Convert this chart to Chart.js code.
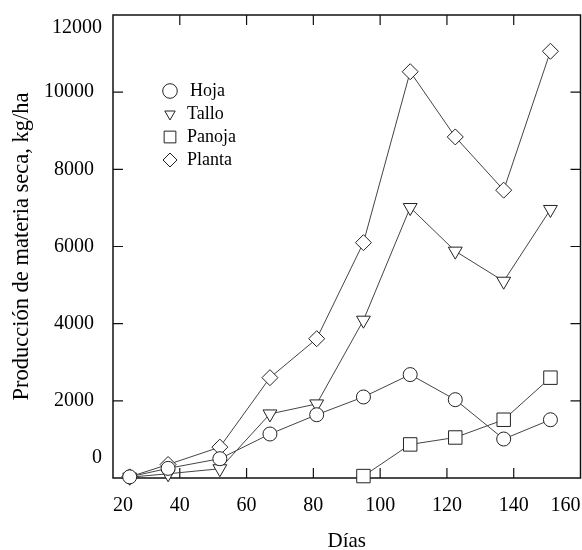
<!DOCTYPE html>
<html>
<head>
<meta charset="utf-8">
<script src="https://cdn.jsdelivr.net/npm/chart.js@4.4.1/dist/chart.umd.min.js"></script>
<style>
    html, body { margin: 0; padding: 0; background: #fff; overflow: hidden; }
    #wrap { width: 582px; height: 550px; position: relative; }
</style>
</head>
<body>
<div id="wrap"><canvas id="chart"></canvas></div>
<script>
// values
const days = [25, 36.5, 52, 67, 81, 95, 109, 122.5, 137, 151];
const hoja = [30, 250, 500, 1140, 1640, 2100, 2680, 2030, 1010, 1510];
const tallo = [20, 110, 240, 1660, 1920, 4090, 7010, 5880, 5100, 6960];
const panoja = [null, null, null, null, null, 50, 870, 1050, 1510, 2600];
const planta = [30, 350, 800, 2600, 3610, 6100, 10530, 8840, 7460, 11060];

const seriesNames = ['Hoja', 'Tallo', 'Panoja', 'Planta'];
const xRange = [20, 160];
const yRange = [0, 12000];

const FONT = "'Liberation Serif', 'Times New Roman', serif";
Chart.defaults.font.family = FONT;
Chart.defaults.color = '#000';

const toPoints = (vals) => days.map((d, i) => ({ x: d, y: vals[i] }));

const makeSet = (label, vals, style, radius, rotation) => ({
    label: label,
    data: toPoints(vals),
    borderColor: '#444',
    borderWidth: 1,
    pointStyle: style,
    pointRadius: radius,
    pointHoverRadius: radius,
    pointRotation: rotation || 0,
    pointBackgroundColor: '#fff',
    pointBorderColor: '#222',
    pointBorderWidth: 1,
    spanGaps: false,
    tension: 0,
    clip: false
});

// box round the plot and ticks pointing inwards
const framePlugin = {
    id: 'frame',
    beforeDatasetsDraw(chart) {
        const { ctx, chartArea: a, scales: { x, y } } = chart;
        ctx.save();
        ctx.strokeStyle = '#111';
        ctx.lineWidth = 1.5;
        ctx.strokeRect(a.left, a.top, a.right - a.left, a.bottom - a.top);
        ctx.lineWidth = 1.2;
        ctx.beginPath();
        x.ticks.forEach(t => {
            if (t.value <= x.min || t.value >= x.max) return;
            const px = x.getPixelForValue(t.value);
            ctx.moveTo(px, a.bottom); ctx.lineTo(px, a.bottom - 10);
            ctx.moveTo(px, a.top); ctx.lineTo(px, a.top + 10);
        });
        y.ticks.forEach(t => {
            if (t.value <= y.min || t.value >= y.max) return;
            const py = y.getPixelForValue(t.value);
            ctx.moveTo(a.left, py); ctx.lineTo(a.left + 10, py);
            ctx.moveTo(a.right, py); ctx.lineTo(a.right - 10, py);
        });
        ctx.stroke();
        ctx.restore();
    },
    afterDraw(chart) {
        const { ctx, chartArea: a, scales: { y } } = chart;
        ctx.save();
        // end labels of the y axis sit off their ticks in the original
        ctx.font = '20px ' + FONT;
        ctx.fillStyle = '#000';
        ctx.textAlign = 'right';
        ctx.textBaseline = 'middle';
        ctx.fillText(String(yRange[1]), a.left - 11, y.getPixelForValue(yRange[1]) + 13);
        ctx.fillText(String(yRange[0]), a.left - 11, y.getPixelForValue(yRange[0]) - 20);

        // legend inside the plot, top left
        const sizes = [7.3, 6, 8.3, 7];
        ctx.font = '18px ' + FONT;
        ctx.textAlign = 'left';
        chart.data.datasets.forEach((ds, i) => {
            const cx = a.left + 57;
            const cy = a.top + 76 + i * 23;
            ctx.fillStyle = '#fff';
            ctx.strokeStyle = '#222';
            ctx.lineWidth = 1;
            Chart.helpers.drawPoint(ctx, {
                pointStyle: ds.pointStyle,
                rotation: ds.pointRotation,
                radius: sizes[i],
                borderWidth: 1
            }, cx, cy);
            ctx.fillStyle = '#000';
            ctx.fillText(ds.label, cx + (i === 0 ? 20 : 17), cy);
        });
        ctx.restore();
    }
};

new Chart(document.getElementById('chart'), {
    type: 'line',
    data: {
        datasets: [
            makeSet(seriesNames[0], hoja, 'circle', 7),
            makeSet(seriesNames[1], tallo, 'triangle', 8, 180),
            makeSet(seriesNames[2], panoja, 'rect', 9.5),
            makeSet(seriesNames[3], planta, 'rectRot', 8)
        ]
    },
    options: {
        responsive: true,
        maintainAspectRatio: false,
        animation: false,
        events: [],
        layout: {
            autoPadding: false,
            padding: { top: 15, right: 1.5, left: 0, bottom: 0 }
        },
        plugins: {
            legend: { display: false },
            tooltip: { enabled: false }
        },
        scales: {
            x: {
                type: 'linear',
                min: xRange[0],
                max: xRange[1],
                grid: { display: false },
                border: { display: false },
                ticks: {
                    stepSize: 20,
                    align: 'inner',
                    padding: 8,
                    maxRotation: 0,
                    font: { size: 20 },
                    color: '#000'
                },
                title: {
                    display: true,
                    text: 'Días',
                    font: { size: 21, lineHeight: 0.85 },
                    color: '#000',
                    padding: 0
                },
                afterFit: (scale) => {
                    scale.height = 72;
                    scale.paddingLeft = 0;
                    scale.paddingRight = 0;
                }
            },
            y: {
                min: yRange[0],
                max: yRange[1],
                grid: { display: false },
                border: { display: false },
                ticks: {
                    stepSize: 2000,
                    padding: 11,
                    font: { size: 20 },
                    color: '#000',
                    callback: (v) => (v === yRange[0] || v === yRange[1]) ? '' : String(v)
                },
                title: {
                    display: true,
                    text: 'Producción de materia seca, kg/ha',
                    font: { size: 22.5, lineHeight: 1.2 },
                    color: '#000',
                    padding: { top: 9, bottom: 0 }
                },
                afterFit: (scale) => {
                    scale.width = 113;
                    scale.paddingTop = 0;
                    scale.paddingBottom = 0;
                }
            }
        }
    },
    plugins: [framePlugin]
});
</script>
</body>
</html>
